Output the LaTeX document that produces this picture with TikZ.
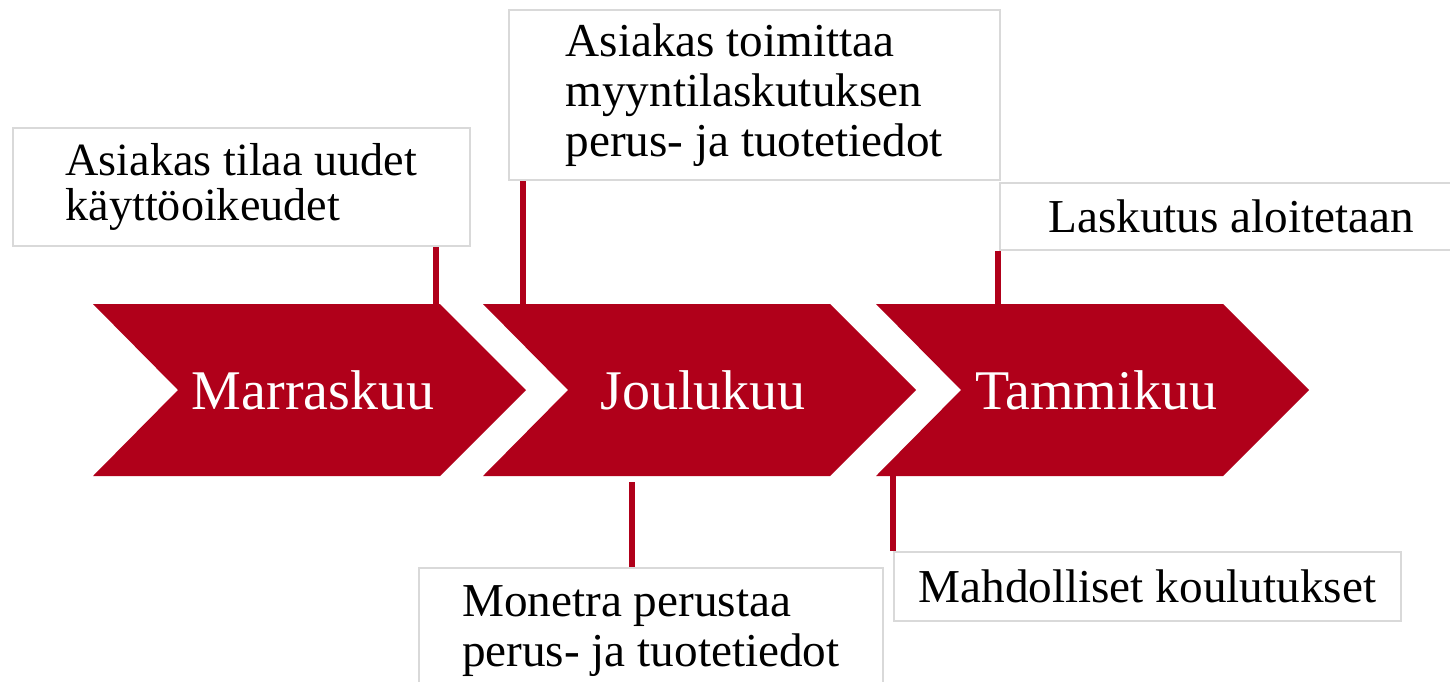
\documentclass[tikz,border=0pt]{standalone}
\usepackage{fontspec}
\setmainfont{Liberation Serif}
\usetikzlibrary{calc}
\definecolor{chevred}{RGB}{176,0,26}
\definecolor{boxgray}{RGB}{217,217,217}

\begin{document}
\begin{tikzpicture}[x=0.5pt, y=-0.5pt]
\useasboundingbox (0,0) rectangle (1450,681);
\tikzset{
    month/.style={text=white, font=\fontsize{28}{32}\selectfont},
    task/.style={draw=boxgray, line width=0.8pt, fill=white, align=left,
        anchor=north west, inner sep=0pt, font=\fontsize{23.6}{25}\selectfont},
    link/.style={draw=chevred, line width=3pt},
}
% chevrons
\foreach \na/\x/\txt in {1/93/Marraskuu, 2/483/Joulukuu, 3/876/Tammikuu}{
    \fill[chevred] (\x,304) -- ++(347,0) -- ++(86,86) -- ++(-86,86) -- ++(-347,0) -- ++(85,-86) -- cycle;
    \path (\x+220,390) node[month] (m-\na) {\txt};
}

\path (12,127) node[task, minimum width=228.5pt, minimum height=59pt,
    font=\fontsize{23.1}{22.5}\selectfont] (t-1) {Asiakas tilaa uudet\\käyttöoikeudet};
\path (508,9) node[task, minimum width=245.5pt, minimum height=85pt] (t-2)
    {Asiakas toimittaa\\myyntilaskutuksen\\perus- ja tuotetiedot};
\path (999,182) node[task, minimum width=231.5pt, minimum height=33.5pt] (t-3) {Laskutus aloitetaan};
\path (418,567) node[task, minimum width=232pt, minimum height=63pt] (t-4)
    {Monetra perustaa\\perus- ja tuotetiedot};
\path (893,551) node[task, minimum width=253.5pt, minimum height=34.5pt] (t-5) {Mahdolliset koulutukset};

% links
\coordinate (c-1) at (436,304);
\coordinate (c-2) at (523,304);
\coordinate (c-3) at (998,304);
\coordinate (c-4) at (632,482);
\coordinate (c-5) at (893,476);
\foreach \y in {1,2,3}{
    \draw[link] (c-\y) -- (c-\y |- t-\y.south);
};
\foreach \y in {4,5}{
    \draw[link] (c-\y) -- (c-\y |- t-\y.north);
};
\end{tikzpicture}
\end{document}
